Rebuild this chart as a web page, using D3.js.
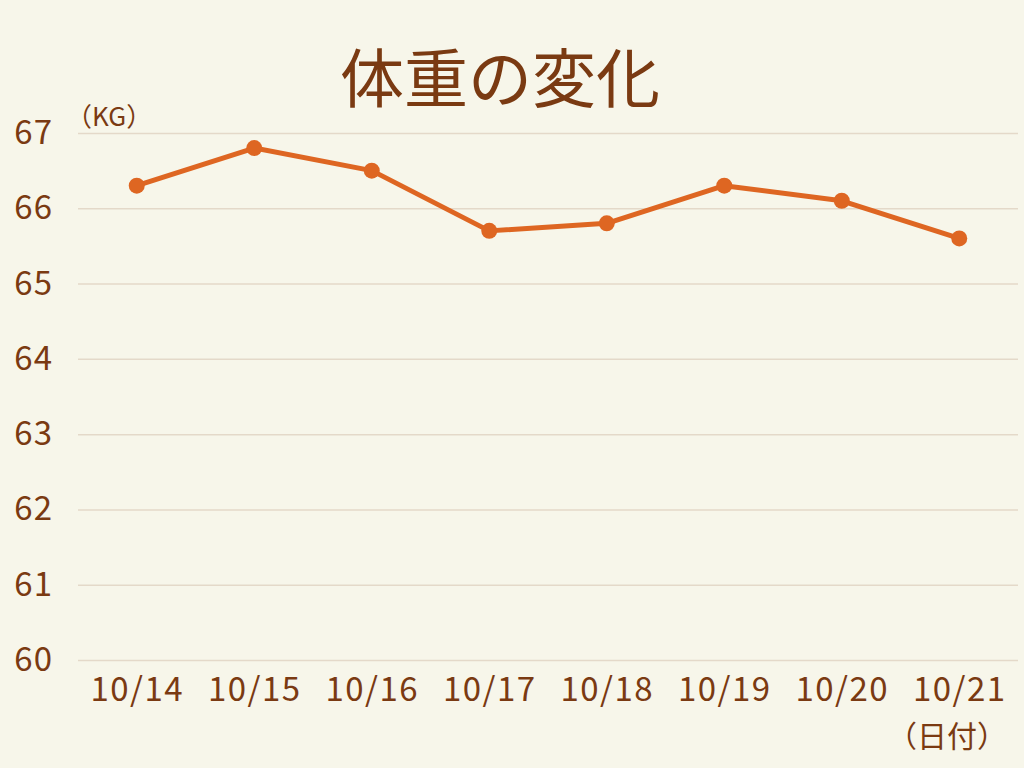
<!DOCTYPE html>
<html>
<head>
<meta charset="utf-8">
<script src="https://cdn.jsdelivr.net/npm/d3@7/dist/d3.min.js"></script>
<style>
  body { margin: 0; background: #f7f6ea; }
  svg { display: block; font-family: "Noto Sans CJK JP", "Noto Sans", sans-serif; }
  .tick text { fill: #7a3a12; }
</style>
</head>
<body>
<svg width="1024" height="768"></svg>
<script>
const dates = ['10/14', '10/15', '10/16', '10/17', '10/18', '10/19', '10/20', '10/21'];
const weights = [66.3, 66.8, 66.5, 65.7, 65.8, 66.3, 66.1, 65.6];
const yTicks = [60, 61, 62, 63, 64, 65, 66, 67];

const textColor = '#7a3a12';
const lineColor = '#de6622';
const font = '"Noto Sans CJK JP", "Noto Sans", sans-serif';

const svg = d3.select('svg');
svg.append('rect').attr('width', 1024).attr('height', 768).attr('fill', '#f7f6ea');

const x = d3.scalePoint().domain(dates).range([78, 1018]).padding(0.5);
const y = d3.scaleLinear().domain([60, 67]).range([660, 133]);

// grid lines
svg.append('g')
  .attr('transform', 'translate(78,0)')
  .call(d3.axisLeft(y).tickValues(yTicks).tickSize(-940).tickFormat(''))
  .call(g => g.select('.domain').remove())
  .call(g => g.selectAll('.tick line').attr('stroke', '#e4d9c9').attr('stroke-width', 1.5));

// y labels
svg.append('g')
  .attr('transform', 'translate(53,0)')
  .attr('font-family', font)
  .call(d3.axisLeft(y).tickValues(yTicks).tickSize(0).tickPadding(0).tickFormat(d3.format('d')))
  .attr('font-family', font)
  .call(g => g.select('.domain').remove())
  .call(g => g.selectAll('.tick text').attr('font-size', 33).attr('letter-spacing', 1));

// x labels
svg.append('g')
  .attr('transform', 'translate(0,674)')
  .call(d3.axisBottom(x).tickSize(0).tickPadding(4))
  .attr('font-family', font)
  .call(g => g.select('.domain').remove())
  .call(g => g.selectAll('.tick text').attr('font-size', 33).attr('letter-spacing', 1.5));

// line
const line = d3.line().x((d, i) => x(dates[i])).y(d => y(d));
svg.append('path')
  .datum(weights)
  .attr('d', line)
  .attr('fill', 'none')
  .attr('stroke', lineColor)
  .attr('stroke-width', 5)
  .attr('stroke-linejoin', 'round');

svg.append('g').selectAll('circle').data(weights).enter().append('circle')
  .attr('cx', (d, i) => x(dates[i]))
  .attr('cy', d => y(d))
  .attr('r', 8)
  .attr('fill', lineColor);

// title
svg.append('text')
  .attr('x', 500).attr('y', 102)
  .attr('text-anchor', 'middle')
  .attr('font-size', 64)
  .attr('fill', textColor)
  .text('体重の変化');

// units
svg.append('text')
  .attr('x', 66).attr('y', 126)
  .attr('font-size', 26)
  .attr('fill', textColor)
  .text('（KG）');

svg.append('text')
  .attr('x', 947).attr('y', 747)
  .attr('text-anchor', 'middle')
  .attr('font-size', 30)
  .attr('fill', textColor)
  .text('（日付）');
</script>
</body>
</html>
